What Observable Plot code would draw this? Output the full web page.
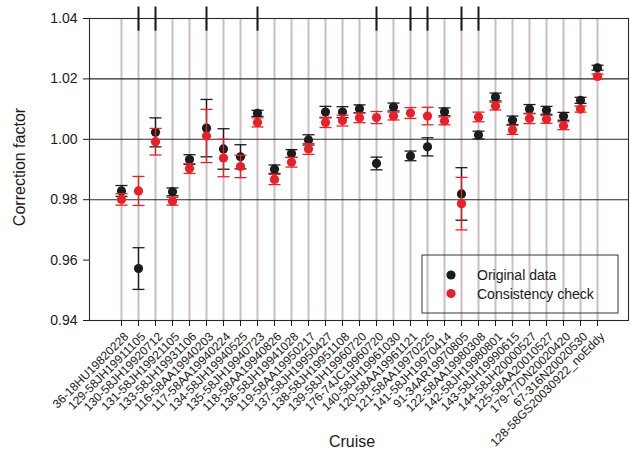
<!DOCTYPE html>
<html>
<head>
<meta charset="utf-8">
<script src="https://cdn.jsdelivr.net/npm/d3@7"></script>
<script src="https://cdn.jsdelivr.net/npm/@observablehq/plot@0.6"></script>
<style>
  html, body { margin: 0; padding: 0; background: #fff; }
  #chart { width: 631px; height: 454px; }
</style>
</head>
<body>
<div id="chart"></div>
<script>
const cruises = [
  "36-18HU19820228", "129-58JH19911105", "130-58JH19920712", "131-58JH19921105",
  "133-58JH19931106", "116-58AA19940203", "117-58AA19940224", "134-58JH19940525",
  "135-58JH19940723", "118-58AA19940826", "136-58JH19941028", "119-58AA19950217",
  "137-58JH19950427", "138-58JH19951108", "139-58JH19960720", "176-74JC19960720",
  "140-58JH19961030", "120-58AA19961121", "121-58AA19970225", "141-58JH19970414",
  "91-34AR19970805", "122-58AA19980308", "142-58JH19980801", "143-58JH19990615",
  "144-58JH20000527", "125-58AA20010527", "179-77DN20020420", "67-316N20020530",
  "128-58GS20030922_noEddy"
];
const original = [0.9829, 0.9572, 1.0023, 0.9826, 0.9933, 1.0037, 0.9968, 0.9942, 1.0086, 0.9901,
  0.9953, 0.9998, 1.0090, 1.0090, 1.0101, 0.9920, 1.0107, 0.9945, 0.9975, 1.0091,
  0.9819, 1.0014, 1.0140, 1.0063, 1.0100, 1.0096, 1.0076, 1.0129, 1.0237];
const originalErr = [0.0018, 0.0069, 0.0048, 0.0013, 0.0016, 0.0095, 0.0067, 0.0040, 0.0010, 0.0014,
  0.0013, 0.0017, 0.0019, 0.0018, 0.0013, 0.0021, 0.0013, 0.0016, 0.0030, 0.0013,
  0.0087, 0.0013, 0.0013, 0.0014, 0.0015, 0.0013, 0.0013, 0.0010, 0.0008];
const consistency = [0.9801, 0.9829, 0.9992, 0.9795, 0.9903, 1.0011, 0.9938, 0.9910, 1.0056, 0.9867,
  0.9924, 0.9968, 1.0056, 1.0062, 1.0071, 1.0072, 1.0077, 1.0087, 1.0077, 1.0061,
  0.9787, 1.0074, 1.0110, 1.0031, 1.0069, 1.0066, 1.0045, 1.0100, 1.0208];
const consistencyErr = [0.0019, 0.0048, 0.0044, 0.0013, 0.0016, 0.0088, 0.0062, 0.0037, 0.0015, 0.0017,
  0.0016, 0.0018, 0.0017, 0.0018, 0.0016, 0.0020, 0.0013, 0.0018, 0.0029, 0.0013,
  0.0087, 0.0016, 0.0013, 0.0015, 0.0017, 0.0013, 0.0013, 0.0010, 0.0008];
const flagged = ["129-58JH19911105", "130-58JH19920712", "116-58AA19940203", "135-58JH19940723",
  "176-74JC19960720", "120-58AA19961121", "121-58AA19970225", "91-34AR19970805", "122-58AA19980308"];
const yTicks = [0.94, 0.96, 0.98, 1.00, 1.02, 1.04];
const hLines = [0.98, 1.00, 1.02];
const seriesNames = ["Original data", "Consistency check"];

const BLACK = "#1c1c1c";
const RED = "#e8202a";

const orig = cruises.map((c, i) => ({cruise: c, v: original[i], lo: original[i] - originalErr[i], hi: original[i] + originalErr[i]}));
const cons = cruises.map((c, i) => ({cruise: c, v: consistency[i], lo: consistency[i] - consistencyErr[i], hi: consistency[i] + consistencyErr[i]}));

const cap = {
  draw(context, size) {
    const w = Math.sqrt(size / Math.PI);
    context.moveTo(-w, 0);
    context.lineTo(w, 0);
  }
};

function errMarks(data, color) {
  return [
    Plot.ruleX(data, {x: "cruise", y1: "lo", y2: "hi", stroke: color, strokeWidth: 1.3}),
    Plot.dot(data, {x: "cruise", y: "lo", symbol: cap, r: 6, stroke: color, strokeWidth: 1.3, fill: "none"}),
    Plot.dot(data, {x: "cruise", y: "hi", symbol: cap, r: 6, stroke: color, strokeWidth: 1.3, fill: "none"})
  ];
}

const chart = Plot.plot({
  width: 631,
  height: 454,
  marginLeft: 89,
  marginRight: 3,
  marginTop: 18,
  marginBottom: 134,
  style: {fontFamily: "'Liberation Sans', Arial, Helvetica, sans-serif", background: "#fff", color: "#1a1a1a"},
  x: {type: "point", domain: cruises, padding: 1},
  y: {domain: [0.94, 1.04]},
  marks: [
    Plot.ruleX(cruises, {x: d => d, stroke: "#c9c0be", strokeWidth: 2}),
    Plot.ruleY(hLines, {stroke: "#2a2a2a", strokeWidth: 1.1}),
    Plot.frame({stroke: "#2a2a2a", strokeWidth: 1.1}),
    Plot.ruleX(flagged, {x: d => d, y1: 1.0438, y2: 1.0358, stroke: "#1a1a1a", strokeWidth: 2}),
    Plot.axisY({ticks: yTicks, tickFormat: d3.format(".2f"), tickSize: 6, tickPadding: 6, fontSize: 14, label: null}),
    Plot.axisX({tickRotate: -45, tickSize: 6, tickPadding: 2, fontSize: 12, label: null}),
    ...errMarks(orig, BLACK),
    Plot.dot(orig, {x: "cruise", y: "v", r: 4.6, fill: BLACK}),
    ...errMarks(cons, RED),
    Plot.dot(cons, {x: "cruise", y: "v", r: 4.6, fill: RED})
  ]
});

document.getElementById("chart").appendChild(chart);

const svg = d3.select(chart);
const font = "'Liberation Sans', Arial, Helvetica, sans-serif";

// shift rotated x tick labels slightly down-right as in the reference
svg.selectAll("g[aria-label='x-axis tick label'] text").attr("dx", null);
svg.select("g[aria-label='x-axis tick label']").attr("transform", function() {
  const t = d3.select(this).attr("transform") || "";
  return t + " translate(5,6)";
});

svg.append("text")
  .attr("transform", "translate(25,167) rotate(-90)")
  .attr("text-anchor", "middle")
  .attr("font-family", font)
  .attr("font-size", 16)
  .attr("fill", "#1a1a1a")
  .text("Correction factor");

svg.append("text")
  .attr("x", 352)
  .attr("y", 447)
  .attr("text-anchor", "middle")
  .attr("font-family", font)
  .attr("font-size", 16)
  .attr("fill", "#1a1a1a")
  .text("Cruise");

const lg = svg.append("g").attr("transform", "translate(422,255)");
lg.append("rect")
  .attr("x", 0).attr("y", 0).attr("width", 196).attr("height", 58)
  .attr("fill", "none").attr("stroke", "#333").attr("stroke-width", 1);
[BLACK, RED].forEach((c, i) => {
  lg.append("circle").attr("cx", 29).attr("cy", 20 + i * 18.5).attr("r", 4.6).attr("fill", c);
  lg.append("text")
    .attr("x", 55).attr("y", 25 + i * 18.5)
    .attr("text-anchor", "start")
    .attr("font-family", font).attr("font-size", 14).attr("fill", "#1a1a1a")
    .text(seriesNames[i]);
});
</script>
</body>
</html>
